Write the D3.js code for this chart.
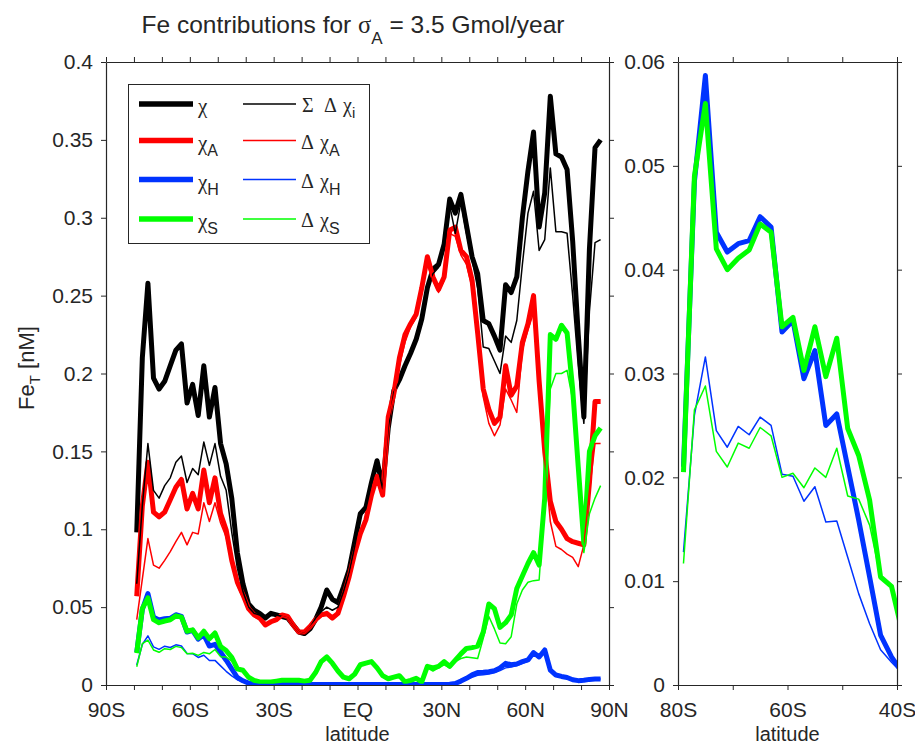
<!DOCTYPE html>
<html><head><meta charset="utf-8">
<script src="https://cdn.jsdelivr.net/npm/d3@7"></script>
<style>body{margin:0;background:#fff}svg{display:block}</style>
</head><body>
<svg id="chart" width="915" height="745"></svg>
<script>
// ---- data (latitude grid, degrees) ----
const lats = d3.range(-79, 88, 2);
// thick lines
const chi = [0.098,0.21,0.258,0.197,0.19,0.195,0.205,0.215,0.219,0.181,0.193,0.173,0.205,0.172,0.191,0.155,0.142,0.12,0.085,0.065,0.052,0.048,0.046,0.043,0.046,0.045,0.044,0.043,0.0385,0.034,0.033,0.036,0.042,0.05,0.061,0.055,0.053,0.063,0.074,0.092,0.11,0.114,0.13,0.144,0.127,0.165,0.189,0.196,0.205,0.213,0.222,0.235,0.255,0.267,0.27,0.283,0.312,0.303,0.315,0.295,0.275,0.264,0.234,0.232,0.224,0.215,0.257,0.252,0.262,0.30,0.33,0.355,0.294,0.316,0.378,0.341,0.339,0.331,0.285,0.225,0.172,0.28,0.345,0.35];
const chiA = [0.057,0.115,0.143,0.111,0.108,0.111,0.119,0.127,0.132,0.113,0.123,0.113,0.138,0.117,0.133,0.110,0.0995,0.080,0.066,0.058,0.049,0.045,0.043,0.0385,0.0406,0.042,0.045,0.044,0.0385,0.034,0.034,0.0375,0.042,0.045,0.046,0.043,0.046,0.057,0.0695,0.0846,0.097,0.106,0.122,0.134,0.122,0.172,0.187,0.21,0.225,0.232,0.238,0.255,0.275,0.262,0.254,0.262,0.292,0.294,0.279,0.275,0.26,0.226,0.19,0.177,0.168,0.172,0.205,0.186,0.192,0.22,0.232,0.25,0.195,0.15,0.118,0.105,0.1,0.094,0.092,0.091,0.09,0.13,0.182,0.182];
const chiH = [0.021,0.0485,0.0587,0.0436,0.0417,0.0425,0.0428,0.0451,0.0441,0.034,0.0351,0.0295,0.0322,0.025,0.0261,0.021,0.0159,0.0104,0.0048,0.0027,0.0012,0.0008,0.0005,0.0004,0.0004,0.0003,0.0003,0.0003,0.0003,0.0003,0.0003,0.0003,0.0003,0.0003,0.0003,0.0003,0.0003,0.0003,0.0003,0.0003,0.0003,0.0003,0.0003,0.0003,0.0003,0.0003,0.0003,0.0003,0.0003,0.0003,0.0003,0.0003,0.0003,0.0003,0.0003,0.0003,0.0005,0.001,0.0025,0.0043,0.0065,0.008,0.0082,0.0085,0.0092,0.011,0.0139,0.013,0.0135,0.015,0.0161,0.0208,0.018,0.0225,0.0096,0.0064,0.0055,0.0048,0.0034,0.0028,0.003,0.0036,0.0038,0.0038];
const chiS = [0.0205,0.049,0.056,0.042,0.040,0.0411,0.0419,0.0444,0.0436,0.0345,0.0354,0.0303,0.0345,0.0297,0.0334,0.0247,0.0221,0.0178,0.0104,0.0095,0.005,0.003,0.002,0.002,0.002,0.0025,0.003,0.003,0.003,0.003,0.0025,0.003,0.008,0.015,0.018,0.014,0.009,0.005,0.004,0.007,0.013,0.014,0.015,0.011,0.006,0.004,0.005,0.006,0.002,0.003,0.0043,0.002,0.012,0.011,0.012,0.015,0.012,0.016,0.02,0.0235,0.024,0.025,0.034,0.052,0.049,0.037,0.04,0.045,0.062,0.07,0.078,0.085,0.077,0.12,0.225,0.222,0.231,0.226,0.19,0.14,0.091,0.15,0.16,0.165];
// thin lines
const sumDelta = [0.065,0.115,0.155,0.125,0.12,0.128,0.133,0.143,0.147,0.13,0.139,0.135,0.156,0.141,0.155,0.134,0.125,0.098,0.075,0.06,0.05,0.046,0.045,0.042,0.045,0.045,0.044,0.043,0.038,0.034,0.033,0.037,0.043,0.047,0.05,0.048,0.05,0.06,0.072,0.089,0.108,0.113,0.129,0.142,0.126,0.165,0.188,0.195,0.204,0.212,0.222,0.232,0.255,0.264,0.268,0.28,0.308,0.29,0.31,0.29,0.273,0.255,0.217,0.216,0.208,0.2,0.224,0.22,0.234,0.27,0.303,0.317,0.279,0.286,0.332,0.291,0.291,0.29,0.25,0.205,0.168,0.24,0.284,0.286];
const deltaA = [0.042,0.068,0.094,0.077,0.075,0.080,0.0856,0.092,0.098,0.090,0.098,0.097,0.117,0.105,0.117,0.104,0.095,0.078,0.064,0.056,0.048,0.044,0.042,0.038,0.040,0.041,0.044,0.043,0.038,0.034,0.033,0.037,0.041,0.044,0.045,0.042,0.045,0.055,0.068,0.083,0.096,0.105,0.121,0.133,0.121,0.17,0.185,0.205,0.22,0.23,0.236,0.255,0.27,0.26,0.252,0.26,0.29,0.288,0.276,0.27,0.255,0.22,0.185,0.168,0.16,0.167,0.19,0.183,0.175,0.215,0.228,0.239,0.19,0.145,0.105,0.089,0.087,0.084,0.082,0.076,0.09,0.125,0.155,0.155];
const deltaH = [0.0128,0.026,0.0316,0.0245,0.0229,0.0249,0.0241,0.0258,0.025,0.0203,0.0201,0.0177,0.0191,0.0157,0.0158,0.0123,0.0088,0.0059,0.0034,0.0022,0.0011,0.0007,0.0004,0.0004,0.0003,0.0003,0.0003,0.0003,0.0003,0.0003,0.0003,0.0003,0.0003,0.0003,0.0003,0.0003,0.0003,0.0003,0.0003,0.0003,0.0003,0.0003,0.0003,0.0003,0.0003,0.0003,0.0003,0.0003,0.0003,0.0003,0.0003,0.0003,0.0003,0.0003,0.0003,0.0003,0.0004,0.0008,0.002,0.0035,0.005,0.0062,0.0066,0.007,0.0078,0.0092,0.011,0.0115,0.0125,0.014,0.0153,0.0195,0.0172,0.021,0.0096,0.0064,0.0055,0.0048,0.0034,0.0028,0.003,0.0036,0.0038,0.0038];
const deltaS = [0.0117,0.0265,0.0288,0.0225,0.021,0.0233,0.0228,0.0248,0.024,0.02,0.0204,0.019,0.0209,0.02,0.0228,0.0182,0.0179,0.0154,0.0104,0.0095,0.005,0.003,0.002,0.002,0.002,0.0025,0.003,0.003,0.003,0.003,0.0025,0.003,0.008,0.015,0.018,0.014,0.009,0.005,0.004,0.007,0.013,0.014,0.015,0.011,0.006,0.004,0.005,0.006,0.002,0.003,0.0043,0.002,0.011,0.009,0.011,0.013,0.011,0.015,0.017,0.018,0.0175,0.017,0.03,0.044,0.036,0.027,0.0265,0.031,0.052,0.061,0.066,0.067,0.0674,0.12,0.19,0.2,0.2,0.202,0.183,0.135,0.085,0.11,0.12,0.128];

// tick labels
const leftXTicks = [-90,-60,-30,0,30,60,90];
const leftXLabels = ["90S","60S","30S","EQ","30N","60N","90N"];
const rightXTicks = [-80,-60,-40];
const rightXLabels = ["80S","60S","40S"];
const leftYTicks = [0,0.05,0.1,0.15,0.2,0.25,0.3,0.35,0.4];
const leftYLabels = ["0","0.05","0.1","0.15","0.2","0.25","0.3","0.35","0.4"];
const rightYTicks = [0,0.01,0.02,0.03,0.04,0.05,0.06];
const rightYLabels = ["0","0.01","0.02","0.03","0.04","0.05","0.06"];

// series definitions
const thickSeries = [
  {name:"chi", vals:chi, color:"#000000"},
  {name:"chiA", vals:chiA, color:"#ff0000"},
  {name:"chiH", vals:chiH, color:"#0033ff"},
  {name:"chiS", vals:chiS, color:"#00ff00"}
];
const thinSeries = [
  {name:"sumDelta", vals:sumDelta, color:"#000000"},
  {name:"deltaA", vals:deltaA, color:"#ff0000"},
  {name:"deltaH", vals:deltaH, color:"#0033ff"},
  {name:"deltaS", vals:deltaS, color:"#00ff00"}
];

const svg = d3.select("#chart");
const AX = "#262626";
const FONT = "'Liberation Sans', Arial, Helvetica, sans-serif";
const SERIF = "'Liberation Serif', 'Times New Roman', serif";

function panel(id, x0, x1, y0, y1, xDom, yDom, xTickStep, xTicks, xLabels, yTicks, yLabels, seriesFilter) {
  const x = d3.scaleLinear().domain(xDom).range([x0, x1]);
  const y = d3.scaleLinear().domain(yDom).range([y1, y0]);
  const g = svg.append("g");
  g.append("defs").append("clipPath").attr("id", id)
    .append("rect").attr("x", x0).attr("y", y0).attr("width", x1 - x0).attr("height", y1 - y0);
  const line = d3.line().x((d, i) => x(lats[i])).y(d => y(d));
  const lg = g.append("g").attr("clip-path", `url(#${id})`);
  thickSeries.filter(seriesFilter).forEach(s => {
    lg.append("path").attr("d", line(s.vals)).attr("fill", "none").attr("stroke", s.color)
      .attr("stroke-width", 5).attr("stroke-linejoin", "round").attr("stroke-linecap", "butt");
  });
  thinSeries.filter(seriesFilter).forEach(s => {
    lg.append("path").attr("d", line(s.vals)).attr("fill", "none").attr("stroke", s.color)
      .attr("stroke-width", 1.5).attr("stroke-linejoin", "round");
  });
  const xt = d3.range(xDom[0], xDom[1] + 0.001, xTickStep);
  const fmtX = d => { const k = xTicks.findIndex(t => Math.abs(t - d) < 1e-6); return k >= 0 ? xLabels[k] : ""; };
  const fmtY = d => { const k = yTicks.findIndex(t => Math.abs(t - d) < 1e-9); return k >= 0 ? yLabels[k] : ""; };
  const bottom = g.append("g").attr("transform", `translate(0,${y1})`)
    .call(d3.axisBottom(x).tickValues(xt).tickFormat(fmtX).tickSize(5).tickSizeOuter(0).tickPadding(12));
  const top = g.append("g").attr("transform", `translate(0,${y0})`)
    .call(d3.axisTop(x).tickValues(xt).tickFormat("").tickSize(5).tickSizeOuter(0));
  const left = g.append("g").attr("transform", `translate(${x0},0)`)
    .call(d3.axisLeft(y).tickValues(yTicks).tickFormat(fmtY).tickSize(5).tickSizeOuter(0).tickPadding(8));
  const right = g.append("g").attr("transform", `translate(${x1},0)`)
    .call(d3.axisRight(y).tickValues(yTicks).tickFormat("").tickSize(5).tickSizeOuter(0));
  [bottom, top, left, right].forEach(a => {
    a.selectAll("path.domain").attr("stroke", AX).attr("stroke-width", 1.2);
    a.selectAll(".tick line").attr("stroke", AX).attr("stroke-width", 1);
    a.selectAll("text").attr("fill", AX).style("font-family", FONT).style("font-size", "21px");
  });
  g.append("text").attr("x", (x0 + x1) / 2).attr("y", 741).attr("text-anchor", "middle")
    .attr("fill", AX).style("font-family", FONT).style("font-size", "20px").text("latitude");
  return {x, y};
}

panel("clipL", 106, 609, 62, 685, [-90, 90], [0, 0.4], 10, leftXTicks, leftXLabels, leftYTicks, leftYLabels, () => true);
panel("clipR", 678, 897, 62, 685, [-80, -40], [0, 0.06], 10, rightXTicks, rightXLabels, rightYTicks, rightYLabels,
  s => ["chiH", "chiS", "deltaH", "deltaS"].includes(s.name));

// title
const title = svg.append("text").attr("x", 353).attr("y", 33).attr("text-anchor", "middle")
  .attr("fill", AX).style("font-family", FONT).style("font-size", "24.5px");
title.append("tspan").text("Fe contributions for ");
title.append("tspan").style("font-family", SERIF).text("σ");
title.append("tspan").attr("dy", 11).style("font-size", "17px").text("A");
title.append("tspan").attr("dy", -11).text(" = 3.5 Gmol/year");

// y label
const yl = svg.append("text").attr("transform", "translate(34,368) rotate(-90)").attr("text-anchor", "middle")
  .attr("fill", AX).style("font-family", FONT).style("font-size", "22px");
yl.append("tspan").text("Fe");
yl.append("tspan").attr("dy", 6).style("font-size", "15px").text("T");
yl.append("tspan").attr("dy", -6).text(" [nM]");

// legend
const leg = svg.append("g");
leg.append("rect").attr("x", 128.5).attr("y", 84.5).attr("width", 241).attr("height", 159)
  .attr("fill", "#fff").attr("stroke", AX).attr("stroke-width", 1);
const rowsY = [104, 140.5, 179.5, 219];
const subs = ["", "A", "H", "S"];
thickSeries.forEach((s, i) => {
  leg.append("line").attr("x1", 139).attr("x2", 193).attr("y1", rowsY[i]).attr("y2", rowsY[i])
    .attr("stroke", s.color).attr("stroke-width", 5.5);
  const t = leg.append("text").attr("x", 198).attr("y", rowsY[i] + 9).attr("fill", AX)
    .style("font-family", SERIF).style("font-size", "21px");
  t.append("tspan").text("χ");
  if (subs[i]) t.append("tspan").attr("dy", 6).style("font-family", FONT).style("font-size", "16px").text(subs[i]);
});
thinSeries.forEach((s, i) => {
  leg.append("line").attr("x1", 243).attr("x2", 296).attr("y1", rowsY[i]).attr("y2", rowsY[i])
    .attr("stroke", s.color).attr("stroke-width", 1.7);
  const t = leg.append("text").attr("y", rowsY[i] + 8).attr("fill", AX)
    .style("font-family", SERIF).style("font-size", "20px");
  if (i === 0) {
    t.attr("x", 302);
    t.append("tspan").text("Σ");
    t.append("tspan").attr("x", 324).text("Δ");
    t.append("tspan").attr("x", 343).text("χ");
    t.append("tspan").attr("dy", 6).style("font-family", FONT).style("font-size", "15px").text("i");
  } else {
    t.attr("x", 301);
    t.append("tspan").text("Δ");
    t.append("tspan").attr("x", 320).text("χ");
    t.append("tspan").attr("dy", 7).style("font-family", FONT).style("font-size", "16px").text(subs[i]);
  }
});
</script>
</body></html>
